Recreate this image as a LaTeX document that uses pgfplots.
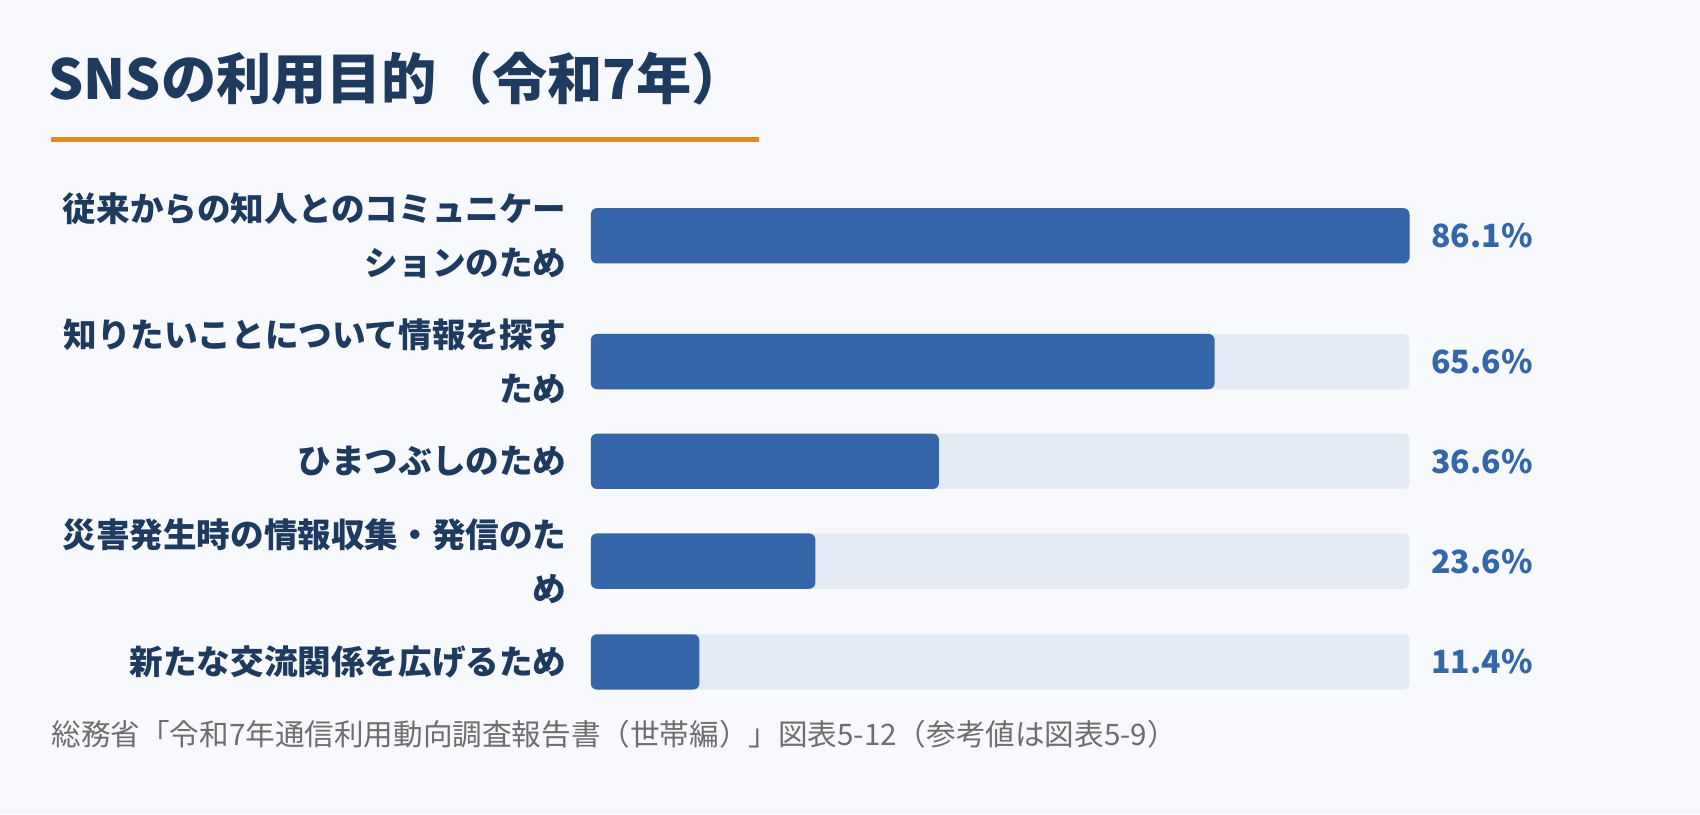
\documentclass[border=0pt]{standalone}
\usepackage{fontspec}
\setmainfont{Noto Sans CJK JP}
\usepackage{pgfplots}
\usepackage{pgfplotstable}
\pgfplotsset{compat=1.18}
\definecolor{bg}{HTML}{F8F9FC}
\definecolor{navy}{HTML}{1E3A5F}
\definecolor{orangeline}{HTML}{E38B1E}
\definecolor{foot}{HTML}{6E6E6E}
\definecolor{barblue}{HTML}{3566AA}
\definecolor{track}{HTML}{E4EBF5}
\definecolor{valblue}{HTML}{3566AA}
\pgfplotstableread{
y full val
235.8 86.1 86.1
361.6 86.1 65.6
461.3 86.1 36.6
561.1 86.1 23.6
661.9 86.1 11.4
}\datatable
\begin{document}
\begin{tikzpicture}
\fill[bg] (0,0) rectangle (850pt,407pt);
\node[anchor=base west, inner sep=0pt, text=navy, font=\fontsize{27.6}{32}\selectfont\bfseries] at (24pt,357pt) {SNSの利用目的（令和7年）};
\fill[orangeline] (25.5pt,336pt) rectangle (379.5pt,338.5pt);
\node[anchor=base west, inner sep=0pt, text=foot, font=\fontsize{14.8}{18}\selectfont] at (25.5pt,34.5pt) {総務省「令和7年通信利用動向調査報告書（世帯編）」図表5-12（参考値は図表5-9）};
\begin{axis}[
  at={(295.45pt,0pt)}, anchor=south west,
  scale only axis, width=409.3pt, height=407pt,
  xmin=0, xmax=86.1, ymin=0, ymax=814, y dir=reverse,
  axis line style={draw=none}, major tick length=0pt,
  xtick=\empty,
  ytick={235.8,361.6,461.3,561.1,661.9},
  yticklabels={{従来からの知人とのコミュニケー\\ションのため},{知りたいことについて情報を探す\\ため},{ひまつぶしのため},{災害発生時の情報収集・発信のた\\め},{新たな交流関係を広げるため}},
  yticklabel style={anchor=east, align=right, inner sep=0pt, xshift=-12pt, text=navy, font=\fontsize{16.8}{27}\selectfont\bfseries},
  clip=false,
]
\addplot[xbar, bar shift=0pt, bar width=55.3, fill=track, draw=none, rounded corners=3pt,
  point meta=explicit,
  nodes near coords={\pgfmathprintnumber[fixed,fixed zerofill,precision=1,assume math mode=true]{\pgfplotspointmeta}\%},
  nodes near coords style={anchor=west, inner sep=0pt, xshift=10.75pt, text=valblue, font=\fontsize{16}{20}\selectfont\bfseries}]
  table[x=full, y=y, meta=val] {\datatable};
\addplot[xbar, bar shift=0pt, bar width=55.3, fill=barblue, draw=none, rounded corners=3pt]
  table[x=val, y=y] {\datatable};
\end{axis}
\pgfresetboundingbox
\useasboundingbox (0,0) rectangle (850pt,407pt);
\end{tikzpicture}
\end{document}
